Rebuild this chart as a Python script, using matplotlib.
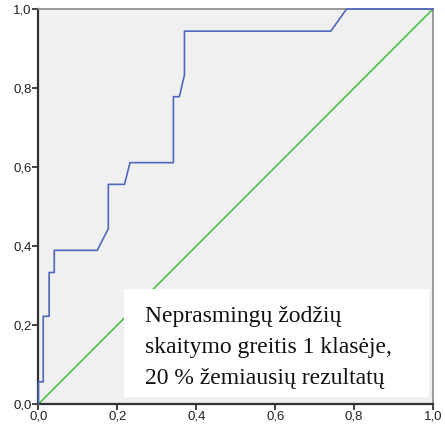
import matplotlib
matplotlib.use("Agg")
import matplotlib.pyplot as plt
from matplotlib.patches import Rectangle

# ROC curve points (1 - specificity, sensitivity)
fpr = [0.0, 0.0, 0.012, 0.012, 0.027, 0.027, 0.040, 0.040, 0.149, 0.177,
       0.177, 0.218, 0.232, 0.342, 0.342, 0.357, 0.370, 0.370, 0.741, 0.781, 1.0]
tpr = [0.0, 0.056, 0.056, 0.222, 0.222, 0.333, 0.333, 0.389, 0.389, 0.444,
       0.556, 0.556, 0.611, 0.611, 0.778, 0.778, 0.833, 0.944, 0.944, 1.0, 1.0]
ref_line = [0.0, 1.0]
ticks = [0.0, 0.2, 0.4, 0.6, 0.8, 1.0]
tick_labels = ["0,0", "0,2", "0,4", "0,6", "0,8", "1,0"]
caption = ["Neprasmingų žodžių", "skaitymo greitis 1 klasėje,", "20 % žemiausių rezultatų"]

fig = plt.figure(figsize=(4.45, 4.29), dpi=100)
ax = fig.add_axes([0.0865, 0.0583, 0.8865, 0.9207])
ax.set_facecolor("#f0f0f0")

ax.plot(ref_line, ref_line, color="#4cc04c", lw=1.2, zorder=2)
ax.plot(fpr, tpr, color="#4f67bd", lw=1.2, zorder=3, clip_on=False)

ax.set_xlim(0, 1)
ax.set_ylim(0, 1)
ax.set_xticks(ticks)
ax.set_xticklabels(tick_labels)
ax.set_yticks(ticks)
ax.set_yticklabels(tick_labels)
ax.tick_params(direction="out", length=4, width=1.2, pad=1, labelsize=9.5,
               colors="#222222")
for lab in ax.get_xticklabels() + ax.get_yticklabels():
    lab.set_family("Liberation Sans")

for side in ["left", "bottom"]:
    ax.spines[side].set_color("#333333")
    ax.spines[side].set_linewidth(1.6)
for side in ["top", "right"]:
    ax.spines[side].set_color("#8a8a8a")
    ax.spines[side].set_linewidth(1.2)

# white caption box over the plot
fig.patches.append(Rectangle((0.2787, 0.0753), 0.686, 0.251, transform=fig.transFigure,
                             facecolor="white", edgecolor="none", zorder=5))
for i, line in enumerate(caption):
    fig.text(0.326, 0.2487 - i * 0.0715, line, family="Liberation Serif",
             fontsize=17, va="baseline", ha="left", color="#111111", zorder=6)

fig.savefig("out.png", dpi=100)
